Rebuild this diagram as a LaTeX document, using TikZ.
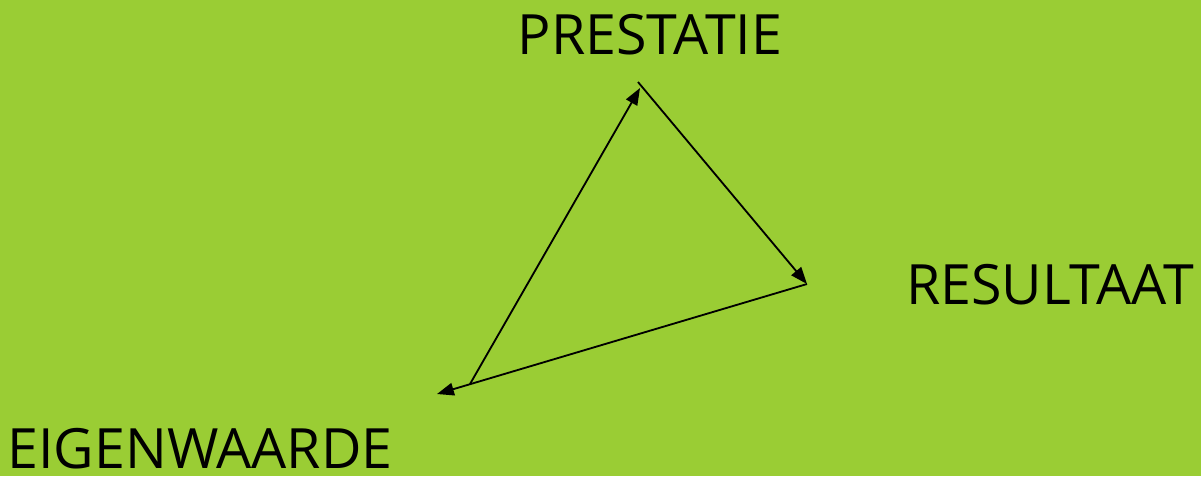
\documentclass[tikz,border=0pt]{standalone}
\usepackage{fontspec}
\setmainfont{Open Sans}
\usetikzlibrary{arrows.meta}
\definecolor{veld}{RGB}{154,205,52}
\tikzset{
  label/.style={font=\fontsize{39.5}{42}\selectfont, text=black, inner sep=0pt, anchor=base},
  pijl/.style={-{Triangle[length=12pt,width=9pt]}, line width=1.3pt, black}
}
\begin{document}
\begin{tikzpicture}[x=0.025cm, y=-0.025cm]
    % Achtergrond.
    \fill[veld] (0,0) rectangle (1201,476);
    \useasboundingbox (0,0) rectangle (1201,476);

    % Hoekpunten van de driehoek.
    \coordinate (boven) at (638,82);
    \coordinate (pijlboven) at (640,88);
    \coordinate (rechts) at (807,284);
    \coordinate (links) at (470,384);
    \coordinate (pijllinks) at (437,394);

    % Teksten.
    \node[label] (prestatie) at (650,54) {PRESTATIE};
    \node[label] (resultaat) at (1050,304) {RESULTAAT};
    \node[label] (eigenwaarde) at (200,468) {EIGENWAARDE};

    % Pijlen.
    \draw[pijl] (links) -- (pijlboven);
    \draw[pijl] (boven) -- (rechts);
    \draw[pijl] (rechts) -- (pijllinks);
\end{tikzpicture}
\end{document}
